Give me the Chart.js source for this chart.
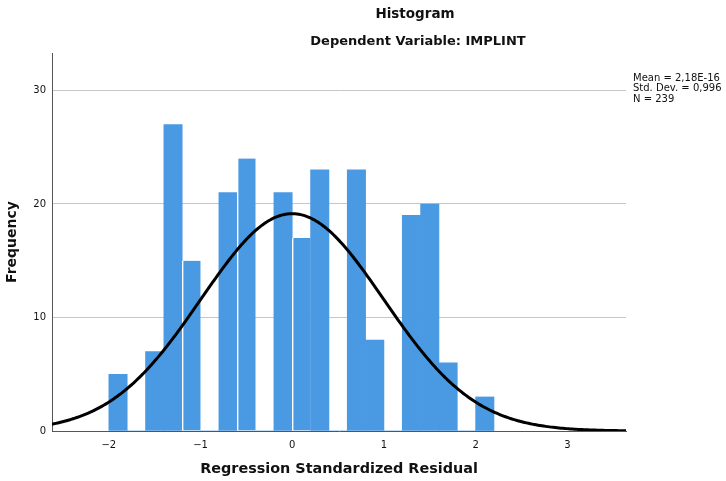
<!DOCTYPE html>
<html>
<head>
<meta charset="utf-8">
<script src="https://cdn.jsdelivr.net/npm/chart.js@4.4.1/dist/chart.umd.min.js"></script>
<style>
  html, body { margin: 0; padding: 0; background: #fff; }
  #wrap { width: 726px; height: 481px; }
</style>
</head>
<body>
<div id="wrap"><canvas id="myChart" width="726" height="481"></canvas></div>
<script>
// residual histogram, bins of width 0.2
const binWidth = 0.2;
const binStarts = [-2.0, -1.8, -1.6, -1.4, -1.2, -1.0, -0.8, -0.6, -0.4, -0.2, 0.0,
                   0.2, 0.4, 0.6, 0.8, 1.0, 1.2, 1.4, 1.6, 1.8, 2.0];
const counts = [5, 0, 7, 27, 15, 0, 21, 24, 0, 21, 17,
                23, 0, 23, 8, 0, 19, 20, 6, 0, 3];

const xTicks = [-2, -1, 0, 1, 2, 3];
const yTicks = [0, 10, 20, 30];

// summary stats shown at the right
const mean = 2.18e-16;
const stdDev = 0.996;
const n = 239;
const statLines = ['Mean = 2,18E-16', 'Std. Dev. = 0,996', 'N = 239'];

const xMin = -2.62, xMax = 3.64;
const yMax = 33.3;

// bins that get a thin white edge on their left side
const splitAt = [-1.2, -0.6, 0.0];

const barData = binStarts.map((s, i) => ({ x: s + binWidth / 2, y: counts[i] }));

// fitted normal curve scaled to counts
const curveData = [];
const peak = n * binWidth / (stdDev * Math.sqrt(2 * Math.PI));
for (let k = 0; k <= 300; k++) {
  const x = xMin + (xMax - xMin) * k / 300;
  const z = (x - mean) / stdDev;
  curveData.push({ x: x, y: peak * Math.exp(-z * z / 2) });
}

Chart.defaults.font.family = 'DejaVu Sans';
Chart.defaults.color = '#111';

const headings = {
  id: 'headings',
  afterDraw(chart) {
    const ctx = chart.ctx;
    ctx.save();
    ctx.fillStyle = '#111';
    ctx.textAlign = 'center';
    ctx.textBaseline = 'middle';
    ctx.font = 'bold 13.5px "DejaVu Sans"';
    ctx.fillText('Histogram', 415, 14);
    ctx.font = 'bold 13px "DejaVu Sans"';
    ctx.fillText('Dependent Variable: IMPLINT', 418, 42);
    ctx.textAlign = 'left';
    ctx.font = '10px "DejaVu Sans"';
    statLines.forEach((t, i) => ctx.fillText(t, 633, 78 + i * 10.5));
    ctx.restore();
  }
};

const config = {
  type: 'bar',
  data: {
    datasets: [
      {
        type: 'line',
        data: curveData,
        borderColor: '#000',
        borderWidth: 3,
        pointRadius: 0,
        tension: 0,
        fill: false,
        order: 0,
      },
      {
        type: 'bar',
        data: barData,
        backgroundColor: '#4a99e3',
        borderColor: '#fff',
        borderWidth: ctx => splitAt.includes(binStarts[ctx.dataIndex]) ? { left: 1.5, right: 0, top: 0, bottom: 0 } : 0,
        borderSkipped: false,
        barPercentage: 1,
        categoryPercentage: 1,
        order: 1,
      },
    ],
  },
  options: {
    responsive: false,
    animation: false,
    layout: { padding: { top: 53, right: 100, left: 0, bottom: 0 } },
    scales: {
      x: {
        type: 'linear',
        min: xMin,
        max: xMax,
        offset: false,
        afterBuildTicks: s => { s.ticks = xTicks.map(v => ({ value: v })); },
        afterFit: s => { s.height = 50; },
        grid: { display: false, drawTicks: false, offset: false },
        border: { display: true, color: '#555', width: 1 },
        ticks: {
          padding: 8,
          font: { size: 10 },
          maxRotation: 0,
          callback: v => v < 0 ? '\u2212' + Math.abs(v) : String(v),
        },
        title: {
          display: true,
          text: 'Regression Standardized Residual',
          font: { size: 14.4, weight: 'bold' },
          padding: { top: 0, bottom: 3 },
        },
      },
      y: {
        min: 0,
        max: yMax,
        afterBuildTicks: s => { s.ticks = yTicks.map(v => ({ value: v })); },
        afterFit: s => { s.width = 52; },
        grid: {
          drawTicks: false,
          color: ctx => ctx.tick && ctx.tick.value === 0 ? 'rgba(0,0,0,0)' : '#c6c6c6',
          lineWidth: 1,
        },
        border: { display: true, color: '#555', width: 1 },
        ticks: { padding: 6, font: { size: 10 } },
        title: {
          display: true,
          text: 'Frequency',
          font: { size: 14, weight: 'bold' },
        },
      },
    },
    plugins: {
      legend: { display: false },
      tooltip: { enabled: false },
    },
  },
  plugins: [headings],
};

const myChart = new Chart(document.getElementById('myChart'), config);
</script>
</body>
</html>
